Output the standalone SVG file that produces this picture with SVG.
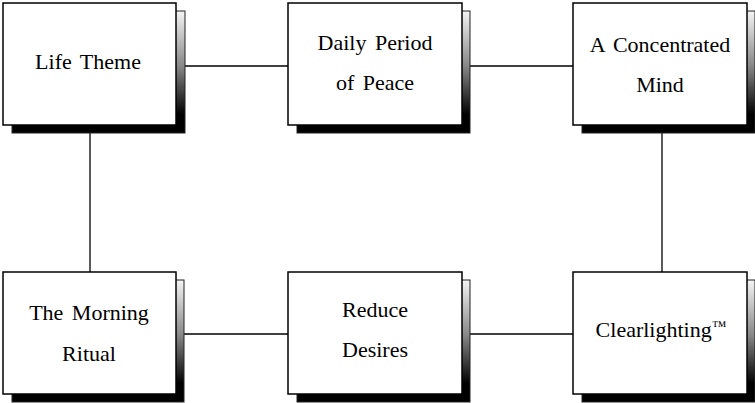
<svg xmlns="http://www.w3.org/2000/svg" width="755" height="403" viewBox="0 0 755 403">
<defs>
<linearGradient id="sh" x1="0" y1="0" x2="0" y2="1">
<stop offset="0" stop-color="#f4f4f4"/>
<stop offset="0.45" stop-color="#888"/>
<stop offset="0.85" stop-color="#000"/>
<stop offset="1" stop-color="#000"/>
</linearGradient>
<style>
.shadow{fill:url(#sh);stroke:#222;stroke-width:1}
.box{fill:#fff;stroke:#000;stroke-width:1.5}
.lbl{font-family:"Liberation Serif","Times New Roman",serif;font-size:22px;fill:#000;text-anchor:middle;word-spacing:3px}
.conn{stroke:#000;stroke-width:1.3;fill:none}
</style>
</defs>
<rect width="755" height="403" fill="#fff"/>
<g id="connectors">
<line class="conn" x1="176" y1="66" x2="288" y2="66"/>
<line class="conn" x1="462" y1="66" x2="573" y2="66"/>
<line class="conn" x1="90" y1="125" x2="90" y2="272"/>
<line class="conn" x1="662" y1="125" x2="662" y2="272"/>
<line class="conn" x1="176" y1="334" x2="288" y2="334"/>
<line class="conn" x1="462" y1="334" x2="573" y2="334"/>
</g>
<g id="life-theme">
<rect class="shadow" x="12" y="11" width="173" height="122"/>
<rect class="box" x="3" y="3" width="173" height="122"/>
<text class="lbl" x="88" y="69">Life Theme</text>
</g>
<g id="daily-period">
<rect class="shadow" x="297" y="11" width="173" height="122"/>
<rect class="box" x="288" y="3" width="174" height="122"/>
<text class="lbl" x="375" y="50">Daily Period</text>
<text class="lbl" x="375" y="90">of Peace</text>
</g>
<g id="concentrated-mind">
<rect class="shadow" x="582" y="11" width="173" height="122"/>
<rect class="box" x="573" y="3" width="174" height="122"/>
<text class="lbl" x="660" y="52">A Concentrated</text>
<text class="lbl" x="660" y="92">Mind</text>
</g>
<g id="morning-ritual">
<rect class="shadow" x="12" y="280" width="172" height="122"/>
<rect class="box" x="3" y="272" width="173" height="122"/>
<text class="lbl" x="89" y="320">The Morning</text>
<text class="lbl" x="89" y="361">Ritual</text>
</g>
<g id="reduce-desires">
<rect class="shadow" x="297" y="280" width="173" height="122"/>
<rect class="box" x="288" y="272" width="174" height="122"/>
<text class="lbl" x="375" y="317">Reduce</text>
<text class="lbl" x="375" y="357">Desires</text>
</g>
<g id="clearlighting">
<rect class="shadow" x="582" y="280" width="173" height="122"/>
<rect class="box" x="573" y="272" width="174" height="122"/>
<text class="lbl" x="661" y="337">Clearlighting<tspan font-size="15" dy="-6">™</tspan></text>
</g>
</svg>
